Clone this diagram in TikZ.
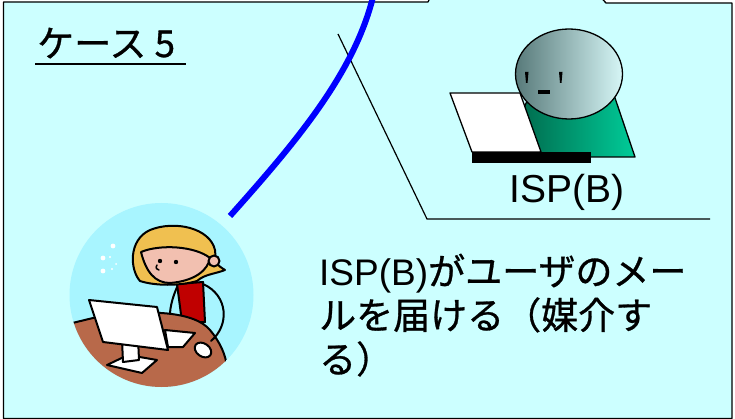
\documentclass[tikz,border=0pt]{standalone}
\usepackage{fontspec}
\setmainfont{Liberation Sans}
\newfontfamily\jpfont[FakeBold=0.8]{Noto Sans CJK JP}

\definecolor{panelcyan}{HTML}{CCFFFF}
\definecolor{usercyan}{HTML}{A8F5FF}
\definecolor{deskbrown}{HTML}{B8694A}
\definecolor{hairgold}{HTML}{F0C050}
\definecolor{skin}{HTML}{F2C0B0}
\definecolor{shirtred}{HTML}{C00000}
\definecolor{headdark}{HTML}{587A7A}
\definecolor{headlight}{HTML}{D6F6F6}
\definecolor{bodydark}{HTML}{005A40}
\definecolor{bodylight}{HTML}{00CC99}

\begin{document}
\begin{tikzpicture}[
      x=1pt, y=-1pt,
      outline/.style={draw=black, line width=1.3pt, line join=round},
      clipart/.style={draw=black, line width=2pt, line join=round, line cap=round},
      jptext/.style={inner sep=0pt, anchor=base west, font=\jpfont\fontsize{37}{44}\selectfont}
  ]

  \useasboundingbox (0,0) rectangle (735,419);

  % panel, its tail runs out over the top edge
  \filldraw[outline, fill=panelcyan] (3.5,418.5) -- (3.5,2) -- (428,2) -- (433,-8)
      -- (596,-8) -- (606,3) -- (732,3) -- (732,418.5) -- cycle;

  % heading
  \node[jptext, font=\jpfont\fontsize{37}{40}\selectfont] (title) at (37,57) {ケース 5};
  \draw[line width=2pt] (35,64) -- (186,64);

  % divider behind the ISP
  \draw[line width=1.2pt] (338,34) -- (427,219) -- (710,219);

  % ISP(B) at the laptop
  \shade[outline, left color=bodydark, right color=bodylight]
      (530,95) -- (614,95) -- (635,157) -- (500,157) -- cycle;
  \filldraw[outline, fill=white] (450,93) -- (520,93) -- (541,152) -- (472,152) -- cycle;
  \fill (472,152) rectangle (591,163);
  \shade[outline, left color=headdark, right color=headlight]
      (569,74) ellipse [x radius=53.5, y radius=45];
  \fill (525,72) -- (528.5,72) -- (527.5,83) -- (526,83) -- cycle;
  \fill (559,72) -- (562.5,72) -- (561.5,83) -- (560,83) -- cycle;
  \fill (538,90.5) rectangle (550,94);
  \node[inner sep=0pt, anchor=base, font=\fontsize{39}{44}\selectfont] (isplabel) at (567,203) {ISP(B)};

  % the user at her desk
  \node[circle, fill=usercyan, minimum size=184pt, inner sep=0pt] (user) at (161.5,295) {};
  \begin{scope}
    \clip (user.center) circle (92);
    % sparkles
    \foreach \px/\py/\r in {113/246/2.4, 103/258/2.4, 103/271/2.4, 110/257/1.2, 116/264/1, 112/269/1.1}
      \fill[white] (\px,\py) circle (\r);
    % arm behind the screen, shirt, hair, face
    \draw[clipart] (178,285) .. controls (172,298) and (169,310) .. (170,322);
    \filldraw[clipart, fill=shirtred] (177,284) -- (203,282) -- (205,322) -- (182,322) -- cycle;
    \filldraw[clipart, fill=hairgold] (140,281) .. controls (130,270) and (128,240) .. (150,230)
        .. controls (175,220) and (210,228) .. (215,250) -- (216,262)
        .. controls (218,266) and (222,268) .. (225,270)
        .. controls (215,274) and (205,274) .. (197,281)
        .. controls (180,286) and (155,286) .. (140,281) -- cycle;
    \filldraw[clipart, fill=skin] (141,252) .. controls (160,244) and (195,246) .. (210,258)
        .. controls (208,270) and (195,281) .. (170,283)
        .. controls (155,283) and (146,272) .. (141,252) -- cycle;
    \filldraw[clipart, fill=skin] (214,261) circle (5.5);
    \fill (160,261) circle (2.2);
    \fill (176,262) circle (2.2);
    \draw[clipart, line width=1.5pt] (157,265) .. controls (155,268) and (157,270) .. (159,270);
    % desk
    \filldraw[clipart, fill=deskbrown] (60,326) -- (93,318) .. controls (150,308) and (195,312) .. (210,330)
        .. controls (220,342) and (226,355) .. (227,368) -- (227,400) -- (60,400) -- cycle;
    % keyboard, arm and mouse
    \filldraw[clipart, fill=white] (165,330) -- (195,333) -- (183,347) -- (168,347) -- cycle;
    \draw[clipart] (203,284) .. controls (228,295) and (230,325) .. (211,341);
    \filldraw[clipart, fill=white, rotate around={-35:(203,350)}] (203,350) ellipse [x radius=9, y radius=6.5];
    % monitor on its stand
    \filldraw[clipart, fill=white] (107,365) -- (128,355) -- (157,360) -- (142,373) -- cycle;
    \filldraw[clipart, fill=white] (122,340) -- (138,338) -- (139,360) -- (123,362) -- cycle;
    \filldraw[clipart, fill=white] (89,300) -- (157,307) -- (168,350) -- (103,342) -- cycle;
  \end{scope}

  % mail line coming down to the user
  \coordinate (netend) at (373,-3);
  \coordinate (userend) at (230,216);
  \draw[blue, line width=6pt] (netend) .. controls (354,73) and (297,141) .. (userend);

  % what the ISP does
  \node[jptext] (mail1) at (319,285) {{\rmfamily\fontsize{37}{44}\selectfont ISP(B)}がユーザのメー};
  \node[jptext] (mail2) at (319,329) {ルを届ける（媒介す};
  \node[jptext] (mail3) at (319,373) {る）};

\end{tikzpicture}
\end{document}
